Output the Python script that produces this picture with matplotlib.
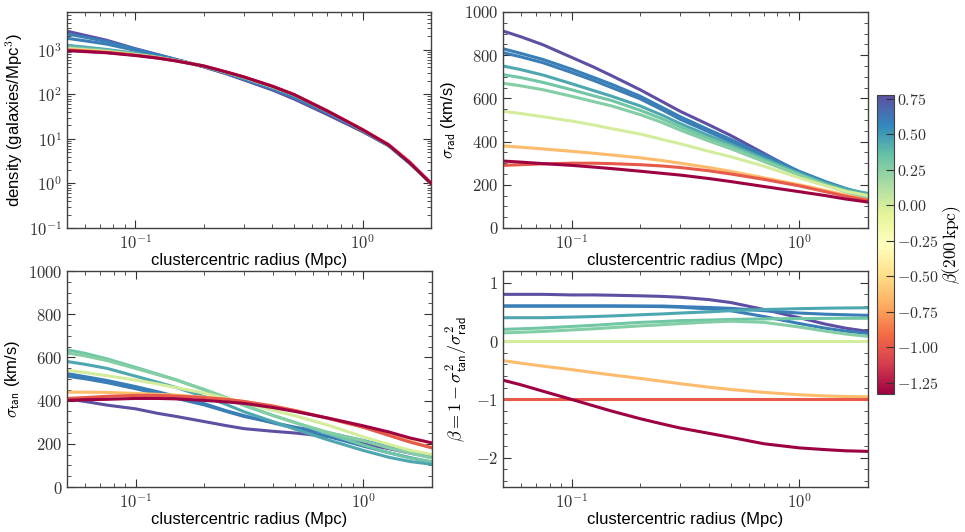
import numpy as np
import matplotlib
matplotlib.use('Agg')
import matplotlib.pyplot as plt
from matplotlib.ticker import FuncFormatter, MultipleLocator, LogLocator, NullFormatter
from matplotlib.colors import Normalize
from matplotlib.cm import ScalarMappable

plt.rcParams['font.family'] = ['Liberation Sans', 'DejaVu Sans']
plt.rcParams['mathtext.fontset'] = 'cm'

# ---------------- data ----------------
radius = [0.05, 0.06, 0.075, 0.1, 0.125, 0.15, 0.2, 0.25, 0.3, 0.4, 0.5, 0.7, 1.0, 1.3, 1.6, 2.0]

# models: purple, blue A, blue B, teal 1, teal 2, teal 3, yellow, orange, red, dark red
density = [
    [2600, 2100, 1620, 1050, 780, 610, 410, 290, 210, 125, 78, 35, 14.5, 7.0, 2.9, 1.0],
    [2250, 1900, 1520, 1030, 770, 605, 415, 295, 218, 132, 84, 38, 15.3, 7.2, 3.0, 1.0],
    [1800, 1580, 1330, 960, 750, 600, 420, 300, 225, 137, 90, 40, 15.5, 7.3, 3.0, 1.0],
    [1250, 1140, 1010, 830, 690, 580, 430, 310, 235, 145, 96, 42, 16, 7.4, 3.1, 1.0],
    [1150, 1060, 960, 800, 675, 575, 430, 312, 238, 147, 97, 42, 16, 7.4, 3.1, 1.0],
    [1100, 1020, 930, 785, 668, 572, 430, 313, 240, 148, 97, 42, 16, 7.4, 3.1, 1.0],
    [1060, 990, 905, 770, 662, 570, 430, 315, 242, 150, 98, 42, 16, 7.4, 3.1, 1.0],
    [1020, 960, 885, 760, 657, 567, 430, 316, 243, 150, 98, 42, 16, 7.4, 3.1, 1.0],
    [980, 930, 865, 750, 652, 565, 430, 317, 244, 151, 98, 42, 16, 7.4, 3.1, 1.0],
    [950, 905, 850, 740, 648, 562, 430, 318, 245, 152, 98, 42, 16, 7.3, 3.0, 1.0],
]

sigma_rad = [
    [912, 885, 848, 790, 745, 705, 640, 585, 540, 478, 428, 345, 258, 210, 178, 150],
    [830, 808, 780, 735, 697, 665, 610, 558, 515, 455, 410, 338, 262, 215, 183, 152],
    [812, 792, 765, 720, 683, 650, 598, 547, 503, 445, 400, 330, 257, 210, 178, 147],
    [750, 733, 708, 668, 636, 610, 565, 522, 483, 428, 387, 322, 253, 208, 180, 160],
    [710, 696, 674, 640, 612, 590, 545, 505, 468, 415, 377, 314, 248, 202, 172, 150],
    [670, 658, 640, 610, 585, 565, 525, 488, 453, 403, 367, 307, 245, 198, 167, 140],
    [540, 530, 515, 495, 477, 460, 435, 410, 390, 355, 330, 286, 232, 196, 170, 150],
    [380, 374, 366, 355, 346, 338, 325, 312, 300, 280, 262, 232, 200, 174, 152, 130],
    [290, 293, 297, 300, 300, 298, 293, 287, 280, 265, 250, 225, 195, 168, 147, 128],
    [310, 305, 298, 290, 282, 275, 263, 253, 245, 229, 215, 192, 168, 150, 134, 120],
]

sigma_tan = [
    [408, 396, 379, 362, 341, 327, 303, 284, 270, 258, 250, 234, 200, 177, 157, 137],
    [525, 511, 493, 465, 441, 420, 386, 353, 330, 297, 272, 234, 189, 158, 136, 114],
    [513, 501, 483, 455, 432, 411, 380, 350, 326, 299, 277, 251, 215, 185, 162, 137],
    [581, 568, 549, 513, 485, 461, 419, 382, 348, 303, 268, 218, 169, 137, 118, 105],
    [635, 619, 593, 554, 523, 497, 450, 412, 377, 332, 299, 247, 194, 158, 134, 117],
    [621, 607, 585, 549, 520, 496, 452, 414, 379, 331, 298, 253, 214, 180, 157, 134],
    [540, 530, 515, 495, 477, 460, 435, 410, 390, 355, 330, 286, 232, 196, 170, 150],
    [439, 439, 438, 433, 429, 425, 416, 406, 395, 375, 354, 318, 277, 242, 212, 182],
    [410, 414, 420, 424, 424, 421, 414, 406, 396, 375, 354, 318, 276, 238, 208, 181],
    [401, 404, 406, 410, 410, 408, 401, 394, 387, 368, 350, 319, 283, 254, 227, 204],
]

beta = [
    [0.80, 0.80, 0.80, 0.79, 0.79, 0.785, 0.775, 0.765, 0.75, 0.71, 0.66, 0.54, 0.40, 0.29, 0.22, 0.165],
    [0.60, 0.60, 0.60, 0.60, 0.60, 0.60, 0.60, 0.60, 0.59, 0.575, 0.56, 0.52, 0.48, 0.46, 0.45, 0.44],
    [0.60, 0.60, 0.60, 0.60, 0.60, 0.60, 0.595, 0.59, 0.58, 0.55, 0.52, 0.42, 0.30, 0.22, 0.17, 0.13],
    [0.40, 0.40, 0.40, 0.41, 0.42, 0.43, 0.45, 0.465, 0.48, 0.50, 0.52, 0.54, 0.555, 0.563, 0.567, 0.57],
    [0.20, 0.21, 0.225, 0.25, 0.27, 0.29, 0.32, 0.335, 0.35, 0.36, 0.37, 0.38, 0.385, 0.388, 0.39, 0.39],
    [0.14, 0.15, 0.165, 0.19, 0.21, 0.23, 0.26, 0.28, 0.30, 0.325, 0.34, 0.32, 0.24, 0.17, 0.12, 0.08],
    [0.0, 0.0, 0.0, 0.0, 0.0, 0.0, 0.0, 0.0, 0.0, 0.0, 0.0, 0.0, 0.0, 0.0, 0.0, 0.0],
    [-0.335, -0.38, -0.43, -0.49, -0.54, -0.58, -0.64, -0.69, -0.73, -0.79, -0.83, -0.88, -0.92, -0.94, -0.95, -0.955],
    [-1.0, -1.0, -1.0, -1.0, -1.0, -1.0, -1.0, -1.0, -1.0, -1.0, -1.0, -1.0, -1.0, -1.0, -1.0, -1.0],
    [-0.67, -0.75, -0.86, -1.0, -1.11, -1.2, -1.33, -1.42, -1.49, -1.58, -1.65, -1.76, -1.83, -1.86, -1.88, -1.89],
]

cbar_ticks = [-1.25, -1.00, -0.75, -0.50, -0.25, 0.00, 0.25, 0.50, 0.75]

# ---------------- figure ----------------
W, H = 965, 532
fig = plt.figure(figsize=(W / 100, H / 100), dpi=100)


def box(l, t, r, b):
    return [l / W, 1 - b / H, (r - l) / W, (b - t) / H]


ax_den = fig.add_axes(box(67, 12, 431, 228))
ax_rad = fig.add_axes(box(503, 12, 868, 228))
ax_tan = fig.add_axes(box(67, 271, 432, 487))
ax_beta = fig.add_axes(box(503, 271, 868, 487))
cax = fig.add_axes(box(877, 95, 894, 394))

idx200 = radius.index(0.2)
beta200 = [b[idx200] for b in beta]
norm = Normalize(vmin=min(beta200), vmax=max(beta200))
cmap = plt.get_cmap('Spectral')

x = np.array(radius)
for i in range(len(beta)):
    c = cmap(norm(beta200[i]))
    ax_den.plot(x, density[i], color=c, lw=2.2)
    ax_rad.plot(x, sigma_rad[i], color=c, lw=2.2)
    ax_tan.plot(x, sigma_tan[i], color=c, lw=2.2)
    ax_beta.plot(x, beta[i], color=c, lw=2.2)

tick_fs = 12
lab_fs = 12

log_fmt = FuncFormatter(lambda v, p: r'$10^{%d}$' % int(round(np.log10(v))))
int_fmt = FuncFormatter(lambda v, p: r'$%d$' % int(round(v)))

for ax in (ax_den, ax_rad, ax_tan, ax_beta):
    ax.set_xscale('log')
    ax.set_xlim(0.05, 2.0)
    ax.xaxis.set_major_locator(LogLocator(base=10))
    ax.xaxis.set_minor_locator(LogLocator(base=10, subs=np.arange(2, 10)))
    ax.xaxis.set_major_formatter(log_fmt)
    ax.xaxis.set_minor_formatter(NullFormatter())
    ax.set_xlabel('clustercentric radius (Mpc)', fontsize=lab_fs, labelpad=1)
    ax.tick_params(which='both', direction='in', top=True, right=True,
                   labelsize=tick_fs, colors='0.2')
    ax.tick_params(which='major', length=6, width=0.8)
    ax.tick_params(which='minor', length=3, width=0.6)
    for s in ax.spines.values():
        s.set_color('0.25')
        s.set_linewidth(1.0)

ax_den.set_yscale('log')
ax_den.set_ylim(0.1, 7000)
ax_den.yaxis.set_major_locator(LogLocator(base=10))
ax_den.yaxis.set_minor_locator(LogLocator(base=10, subs=np.arange(2, 10)))
ax_den.yaxis.set_major_formatter(log_fmt)
ax_den.yaxis.set_minor_formatter(NullFormatter())
ax_den.set_ylabel(r'density (galaxies/Mpc$^3$)', fontsize=lab_fs, labelpad=3)

for ax in (ax_rad, ax_tan):
    ax.set_ylim(0, 1000)
    ax.yaxis.set_major_locator(MultipleLocator(200))
    ax.yaxis.set_minor_locator(MultipleLocator(50))
    ax.yaxis.set_major_formatter(int_fmt)
ax_rad.set_ylabel(r'$\sigma_{\mathsf{rad}}$ (km/s)', fontsize=lab_fs, labelpad=4)
ax_tan.set_ylabel(r'$\sigma_{\mathsf{tan}}$ (km/s)', fontsize=lab_fs, labelpad=4)

ax_beta.set_ylim(-2.5, 1.2)
ax_beta.yaxis.set_major_locator(MultipleLocator(1))
ax_beta.yaxis.set_minor_locator(MultipleLocator(0.2))
ax_beta.yaxis.set_major_formatter(int_fmt)
ax_beta.set_ylabel(r'$\beta = 1 - \sigma^2_{\mathsf{tan}}/\sigma^2_{\mathsf{rad}}$',
                   fontsize=lab_fs + 1, labelpad=4)

sm = ScalarMappable(norm=norm, cmap=cmap)
cb = fig.colorbar(sm, cax=cax, ticks=cbar_ticks)
cb.ax.yaxis.set_major_formatter(FuncFormatter(lambda v, p: r'$%.2f$' % v))
cb.ax.tick_params(direction='in', length=6, labelsize=11.5, colors='0.2', pad=2)
cb.outline.set_edgecolor('0.25')
cb.set_label(r'$\beta(200\,\mathrm{kpc})$', fontsize=12.5, labelpad=1)

fig.savefig('out.png', dpi=100)
